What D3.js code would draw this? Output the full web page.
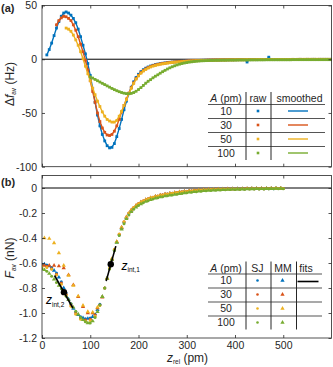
<!DOCTYPE html>
<html lang="en">
<head>
<meta charset="UTF-8">
<title>Frequency shift and force curves</title>
<script src="https://cdn.jsdelivr.net/npm/d3@7"></script>
<style>
  body { margin: 0; background: #fff; }
  svg { display: block; font-family: "Liberation Sans", Arial, sans-serif; }
  .tick text { font-size: 10.5px; font-family: "Liberation Sans", Arial, sans-serif; }
  .domain { display: none; }
  .tick line { stroke-width: 0.8; }
</style>
</head>
<body>
<script>
// oscillation amplitudes (pm) and their colours
const amps = [10, 30, 50, 100]
const colors = ["#0072BD", "#D95319", "#EDB120", "#77AC30"]

// x axis ticks (pm)
const xTicks = [0, 100, 200, 300, 400, 500]
const yTicksA = [-100, -50, 0, 50]
const yTicksB = [-1.2, -1.0, -0.8, -0.6, -0.4, -0.2, 0]

// (a) frequency shift in Hz, one raw point every 5 pm starting at z = A
const dfStart = [10, 30, 50, 100]
const df10 = [4, 9, 15, 22, 29, 35, 40, 43, 44, 43, 41, 38, 34, 28, 21, 13, 5, -4,
  -15, -27, -40, -52, -62, -70, -76, -80.5, -82.5, -82, -78.5, -72, -64.5, -56, -47, -39, -32, -26, -21, -17,
  -14, -11.5, -9.7, -8.3, -7.2, -6.3, -5.6, -5, -4.5, -4.1, -3.7, -3.4, -3.1, -2.8, -2.6, -2.4, -2.2, -2.0, -1.9, -1.7,
  -1.6, -1.5, -1.4, -1.3, -1.2, -1.1, -1.1, -1.0, -0.9, -0.9, -0.8, -0.8, -0.7, -0.7, -0.7, -0.6, -0.6, -0.6, -0.5, -0.5,
  -0.5, -0.5, -0.4, -0.4, -0.4, -2.6, -0.4, -0.4, -0.3, -0.4, -0.3, -0.3, -0.3, -0.3, 1.9, -0.3, -0.3, -0.2, -0.3, -0.2,
  -0.2, -0.3, -0.2, -0.2, -0.2, -0.2, -0.2, -0.1, -0.2, -0.2, -0.1, -0.2, -0.1, -0.1, -0.2, -0.1, -0.1, -0.1, -0.1, -0.1, -0.1]
const df30 = [32, 36, 38.5, 40, 39.5, 38, 36, 32, 27, 21, 14, 7, -1, -10,
  -20, -30, -40, -50, -58, -64, -68, -70.5, -71, -70, -67, -62, -56, -49, -43, -37, -31.5, -26.5, -22, -18,
  -15, -12.5, -10.5, -9, -7.8, -6.8, -6, -5.3, -4.8, -4.3, -3.9, -3.6, -3.3, -3.0, -2.7, -2.5, -2.3, -2.1, -1.9, -1.8,
  -1.6, -1.5, -1.4, -1.3, -1.2, -1.1, -1.0, -1.0, -0.9, -0.8, -0.8, -0.7, -0.7, -0.7, -0.6, -0.6, -0.6, -0.5, -0.5, -0.5,
  -0.5, -0.4, -0.4, -0.4, -0.4, -0.4, -0.3, -0.3, -0.3, -0.3, -0.3, -0.3, -0.3, -0.2, -0.3, -0.2, -0.2, -0.2, -0.2, -0.2,
  -0.2, -0.2, -0.2, -0.2, -0.1, -0.2, -0.1, -0.1, -0.1, -0.1, -0.1, -0.1, -0.1, -0.1, -0.1, -0.1, -0.1, -0.1, -0.1, -0.1, -0.1]
const df50 = [29, 28, 26, 22.5, 18, 13, 7, 0.5, -6.5, -13.5,
  -20, -27, -33, -39, -44, -49, -53, -56, -57.5, -58.5, -58.5, -57, -53, -48.5, -43, -37.5, -32, -27, -22.5, -18.5,
  -15.5, -13, -11, -9.5, -8.2, -7.2, -6.4, -5.8, -5.2, -4.7, -4.3, -3.9, -3.6, -3.3, -3.0, -2.8, -2.6, -2.4, -2.2, -2.0,
  -1.9, -1.7, -1.6, -1.5, -1.4, -1.3, -1.2, -1.1, -1.0, -1.0, -0.9, -0.9, -0.8, -0.8, -0.7, -0.7, -0.7, -0.6, -0.6, -0.6,
  -0.5, -0.5, -0.5, -0.5, -0.4, -0.4, -0.4, -0.4, -0.4, -0.3, -0.3, -0.3, -0.3, -0.3, -0.3, -0.3, -0.2, -0.3, -0.2, -0.2,
  -0.2, -0.2, -0.2, -0.2, -0.2, -0.2, -0.2, -0.1, -0.2, -0.1, -0.1, -0.1, -0.1, -0.1, -0.1, -0.1, -0.1, -0.1, -0.1, -0.1, -0.1]
const df100 = [-16.5, -17.5, -18.8, -20, -21.2, -22.4, -23.6, -24.8, -26, -27.2, -28.3, -29.3, -30.2, -31, -31.6, -32, -32.1, -31.8, -31, -29.8,
  -28.2, -26.4, -24.4, -22.3, -20.5, -19, -17.3, -15.8, -14.5, -13, -11.6, -10.3, -9.1, -8, -7, -6.1, -5.3, -4.6, -4, -3.5,
  -3.1, -2.7, -2.4, -2.1, -1.9, -1.7, -1.5, -1.4, -1.3, -1.2, -1.1, -1.1, -1.0, -1.0, -0.9, -0.9, -0.9, -0.8, -0.8, -0.8,
  -0.8, -0.7, -0.7, -0.7, -0.7, -0.7, -0.6, -0.6, -0.6, -0.6, -0.6, -0.6, -0.6, -0.5, -0.5, -0.5, -0.5, -0.5, -0.5, -0.5,
  -0.5, -0.5, -0.5, -0.5, -0.4, -0.4, -0.4, -0.4, -0.4, -0.4, -0.4, -0.4, -0.4, -0.4, -0.4, -0.4, -0.4, -0.4, -0.4, -0.4, -0.4]
const dfSeries = [df10, df30, df50, df100]

// (b) force in nN; SJ every 10 pm from 0, MM every 10 pm from 5
const sj10 = [-0.61, -0.615, -0.635, -0.68, -0.75, -0.84, -0.925, -0.99, -1.03, -1.045,
  -1.04, -1.01, -0.93, -0.80, -0.645, -0.50, -0.375, -0.275, -0.205, -0.16,
  -0.128, -0.105, -0.088, -0.075, -0.065, -0.056, -0.048, -0.042, -0.036, -0.031,
  -0.027, -0.023, -0.019, -0.016, -0.014, -0.012, -0.011, -0.010, -0.009, -0.008,
  -0.008, -0.007, -0.007, -0.006, -0.006, -0.006, -0.005, -0.005, -0.005, -0.004, -0.004]
const sj30 = [-0.62, -0.625, -0.645, -0.69, -0.76, -0.85, -0.935, -1.0, -1.04, -1.055,
  -1.05, -1.015, -0.935, -0.80, -0.645, -0.495, -0.37, -0.27, -0.20, -0.155,
  -0.124, -0.102, -0.085, -0.073, -0.063, -0.054, -0.047, -0.041, -0.035, -0.030,
  -0.026, -0.022, -0.018, -0.015, -0.013, -0.011, -0.010, -0.009, -0.008, -0.008,
  -0.007, -0.007, -0.006, -0.006, -0.005, -0.005, -0.005, -0.004, -0.004, -0.004, -0.003]
const sj50 = [-0.63, -0.635, -0.65, -0.695, -0.77, -0.86, -0.945, -1.01, -1.05, -1.065,
  -1.06, -1.025, -0.94, -0.80, -0.64, -0.49, -0.368, -0.27, -0.20, -0.156,
  -0.125, -0.103, -0.086, -0.074, -0.064, -0.055, -0.048, -0.042, -0.036, -0.031,
  -0.027, -0.023, -0.019, -0.016, -0.014, -0.012, -0.011, -0.010, -0.009, -0.008,
  -0.008, -0.007, -0.007, -0.006, -0.006, -0.005, -0.005, -0.005, -0.004, -0.004, -0.004]
const sj100 = [-0.645, -0.665, -0.705, -0.755, -0.805, -0.865, -0.925, -0.985, -1.035, -1.07,
  -1.08, -1.035, -0.935, -0.80, -0.648, -0.50, -0.38, -0.285, -0.215, -0.17,
  -0.14, -0.118, -0.101, -0.088, -0.078, -0.069, -0.062, -0.055, -0.049, -0.043,
  -0.038, -0.033, -0.029, -0.025, -0.022, -0.019, -0.017, -0.015, -0.013, -0.012,
  -0.011, -0.010, -0.009, -0.008, -0.008, -0.007, -0.007, -0.006, -0.006, -0.005, -0.005]
const mm10 = [-0.61, -0.625, -0.66, -0.715, -0.80, -0.89, -0.965, -1.015, -1.04, -1.045,
  -1.03, -0.975, -0.87, -0.72, -0.57, -0.435, -0.32, -0.237, -0.18, -0.143,
  -0.116, -0.096, -0.081, -0.07, -0.06, -0.052, -0.045, -0.039, -0.033, -0.029,
  -0.025, -0.021, -0.018, -0.015, -0.013, -0.012, -0.011, -0.010, -0.009, -0.008,
  -0.008, -0.007, -0.007, -0.006, -0.006, -0.005, -0.005, -0.005, -0.004, -0.004]
const mm30 = [-0.62, -0.62, -0.62, -0.625, -0.64, -0.695, -0.775, -0.87, -0.95, -1.0,
  -1.0, -0.96, -0.875, -0.725, -0.57, -0.43, -0.315, -0.232, -0.176, -0.14,
  -0.113, -0.094, -0.079, -0.068, -0.058, -0.05, -0.044, -0.038, -0.032, -0.028,
  -0.024, -0.02, -0.017, -0.014, -0.012, -0.011, -0.01, -0.009, -0.008, -0.008,
  -0.007, -0.007, -0.006, -0.006, -0.005, -0.005, -0.005, -0.004, -0.004, -0.004]
const mm50 = [-0.40, -0.405, -0.44, -0.52, -0.62, -0.70, -0.78, -0.865, -0.94, -0.99,
  -0.995, -0.955, -0.87, -0.72, -0.565, -0.43, -0.315, -0.233, -0.177, -0.141,
  -0.114, -0.095, -0.080, -0.069, -0.059, -0.051, -0.045, -0.039, -0.033, -0.029,
  -0.025, -0.021, -0.018, -0.015, -0.013, -0.012, -0.011, -0.010, -0.009, -0.008,
  -0.008, -0.007, -0.007, -0.006, -0.006, -0.005, -0.005, -0.005, -0.004, -0.004]
const mm100 = [-0.655, -0.685, -0.73, -0.78, -0.835, -0.895, -0.955, -1.01, -1.055, -1.08,
  -1.065, -0.99, -0.87, -0.725, -0.573, -0.437, -0.33, -0.247, -0.19, -0.154,
  -0.128, -0.109, -0.094, -0.083, -0.073, -0.065, -0.058, -0.052, -0.046, -0.040,
  -0.035, -0.031, -0.027, -0.023, -0.020, -0.018, -0.016, -0.014, -0.013, -0.011,
  -0.010, -0.010, -0.009, -0.008, -0.007, -0.007, -0.006, -0.006, -0.005, -0.005]
const sjSeries = [sj10, sj30, sj50, sj100]
const mmSeries = [mm10, mm30, mm50, mm100]

// linear fits around the two inflection points
const fitZ = [[133, 153], [26, 64]]
const fitF = [[-0.745, -0.465], [-0.70, -0.96]]
const infZ = [142.5, 45.5]
const infF = [-0.61, -0.833]
const infLabels = ["int,1", "int,2"]

const width = 333, height = 367
const ink = "#262626"

const svg = d3.select("body").append("svg")
  .attr("width", width)
  .attr("height", height)

const x = d3.scaleLinear().domain([0, 600]).range([42, 331.5])
const ya = d3.scaleLinear().domain([-100, 50]).range([166.7, 5.5])
const yb = d3.scaleLinear().domain([-1.2, 0.1]).range([338, 175.5])

function axes(y, yTicks, fmt, xLabels) {
  const [y0, y1] = y.range()
  const g = svg.append("g").attr("color", ink)
  g.append("g").attr("transform", `translate(0,${y0})`)
    .call(d3.axisBottom(x).tickValues(xTicks).tickSizeInner(-3).tickSizeOuter(0).tickPadding(4)
      .tickFormat(xLabels ? d => String(d) : ""))
  g.append("g").attr("transform", `translate(0,${y1})`)
    .call(d3.axisTop(x).tickValues(xTicks).tickSizeInner(-3).tickSizeOuter(0).tickFormat(""))
  g.append("g").attr("transform", `translate(${x.range()[0]},0)`)
    .call(d3.axisLeft(y).tickValues(yTicks).tickSizeInner(-3).tickSizeOuter(0).tickPadding(5).tickFormat(fmt))
  g.append("g").attr("transform", `translate(${x.range()[1]},0)`)
    .call(d3.axisRight(y).tickValues(yTicks).tickSizeInner(-3).tickSizeOuter(0).tickFormat(""))
  g.append("rect")
    .attr("x", x.range()[0]).attr("y", y1)
    .attr("width", x.range()[1] - x.range()[0]).attr("height", y0 - y1)
    .attr("fill", "none").attr("stroke", ink).attr("stroke-width", 0.8)
}

function clip(id, y) {
  const [y0, y1] = y.range()
  svg.append("clipPath").attr("id", id).append("rect")
    .attr("x", x.range()[0]).attr("y", y1)
    .attr("width", x.range()[1] - x.range()[0]).attr("height", y0 - y1)
  return svg.append("g").attr("clip-path", `url(#${id})`)
}

// ---------- panel (a) ----------
const plotA = clip("clipA", ya)
plotA.append("line")
  .attr("x1", x(0)).attr("x2", x(600)).attr("y1", ya(0)).attr("y2", ya(0))
  .attr("stroke", "#000").attr("stroke-width", 1)

dfSeries.forEach((vals, i) => {
  const pts = vals.map((v, j) => [dfStart[i] + 5 * j, v])
  plotA.append("path").datum(pts)
    .attr("fill", "none").attr("stroke", colors[i]).attr("stroke-width", 1.4)
    .attr("d", d3.line().x(d => x(d[0])).y(d => ya(d[1])).curve(d3.curveBasis))
  plotA.append("g").selectAll("rect").data(pts).join("rect")
    .attr("x", d => x(d[0]) - 1.4).attr("y", d => ya(d[1]) - 1.4)
    .attr("width", 2.8).attr("height", 2.8)
    .attr("fill", colors[i])
})
axes(ya, yTicksA, d => String(d), false)

// ---------- panel (b) ----------
const plotB = clip("clipB", yb)
plotB.append("line")
  .attr("x1", x(0)).attr("x2", x(600)).attr("y1", yb(0)).attr("y2", yb(0))
  .attr("stroke", "#000").attr("stroke-width", 1)

const tri = d3.symbol(d3.symbolTriangle).size(8)
amps.forEach((a, i) => {
  const sj = sjSeries[i].map((v, j) => [10 * j, v])
  const mm = mmSeries[i].map((v, j) => [5 + 10 * j, v])
  plotB.append("g").selectAll("circle").data(sj).join("circle")
    .attr("cx", d => x(d[0])).attr("cy", d => yb(d[1])).attr("r", 1.5)
    .attr("fill", colors[i])
  plotB.append("g").selectAll("path").data(mm).join("path")
    .attr("transform", d => `translate(${x(d[0])},${yb(d[1])})`)
    .attr("d", tri)
    .attr("fill", colors[i])
})

fitZ.forEach((zz, k) => {
  plotB.append("line")
    .attr("x1", x(zz[0])).attr("x2", x(zz[1]))
    .attr("y1", yb(fitF[k][0])).attr("y2", yb(fitF[k][1]))
    .attr("stroke", "#000").attr("stroke-width", 1.6)
  plotB.append("circle")
    .attr("cx", x(infZ[k])).attr("cy", yb(infF[k])).attr("r", 3.2)
    .attr("fill", "#000")
})

// inflection labels
const infPos = [[121.5, 269.5], [46, 304]]
infLabels.forEach((lab, k) => {
  const t = svg.append("text").attr("x", infPos[k][0]).attr("y", infPos[k][1])
    .attr("font-size", 12).attr("fill", "#000")
  t.append("tspan").attr("font-style", "italic").text("z")
  t.append("tspan").attr("font-size", 6.5).attr("dy", 2.5).text(lab)
})

axes(yb, yTicksB, d => d === 0 ? "0" : d.toFixed(1), true)

// ---------- labels ----------
svg.append("text").attr("x", 1).attr("y", 12)
  .attr("font-size", 11).attr("font-weight", "bold").attr("fill", ink).text("(a)")
svg.append("text").attr("x", 1).attr("y", 186)
  .attr("font-size", 11).attr("font-weight", "bold").attr("fill", ink).text("(b)")

const yLabA = svg.append("text")
  .attr("transform", "translate(14,84) rotate(-90)")
  .attr("text-anchor", "middle").attr("font-size", 12).attr("fill", ink)
yLabA.append("tspan").text("Δ")
yLabA.append("tspan").attr("font-style", "italic").text("f")
yLabA.append("tspan").attr("font-size", 6.5).attr("dy", 2).text("av")
yLabA.append("tspan").attr("dy", -2).text(" (Hz)")

const yLabB = svg.append("text")
  .attr("transform", "translate(14,258) rotate(-90)")
  .attr("text-anchor", "middle").attr("font-size", 12).attr("fill", ink)
yLabB.append("tspan").attr("font-style", "italic").text("F")
yLabB.append("tspan").attr("font-size", 6.5).attr("dy", 2).text("av")
yLabB.append("tspan").attr("dy", -2).text(" (nN)")

const xLab = svg.append("text").attr("x", 187.5).attr("y", 362)
  .attr("text-anchor", "middle").attr("font-size", 12).attr("fill", ink)
xLab.append("tspan").attr("font-style", "italic").text("z")
xLab.append("tspan").attr("font-size", 6.5).attr("dy", 2).text("rel")
xLab.append("tspan").attr("dy", -2).text(" (pm)")

// ---------- legend tables ----------
function table(top, cols, vLines, right) {
  const g = svg.append("g").attr("font-size", 10.5).attr("fill", ink)
  const hdr = g.append("text").attr("x", 226).attr("y", top).attr("text-anchor", "middle")
  hdr.append("tspan").attr("font-style", "italic").text("A")
  hdr.append("tspan").text(" (pm)")
  cols.forEach(c => g.append("text").attr("x", c[1]).attr("y", top).attr("text-anchor", "middle").text(c[0]))
  d3.range(4).forEach(k => {
    g.append("line").attr("x1", 208).attr("x2", right)
      .attr("y1", top + 2.5 + 14 * k).attr("y2", top + 2.5 + 14 * k)
      .attr("stroke", "#555").attr("stroke-width", 1.1)
  })
  vLines.forEach(xx => g.append("line").attr("x1", xx).attr("x2", xx)
    .attr("y1", top - 10).attr("y2", top + 58).attr("stroke", ink).attr("stroke-width", 1))
  amps.forEach((a, i) => {
    g.append("text").attr("x", 226).attr("y", top + 12.7 + 14 * i).attr("text-anchor", "middle").text(a)
  })
  return g
}

const legA = table(102, [["raw", 258], ["smoothed", 299.5]], [246, 271], 325)
amps.forEach((a, i) => {
  const cy = 111 + 14 * i
  legA.append("rect").attr("x", 256.7).attr("y", cy - 1.3).attr("width", 2.6).attr("height", 2.6).attr("fill", colors[i])
  legA.append("line").attr("x1", 288).attr("x2", 308).attr("y1", cy).attr("y2", cy)
    .attr("stroke", colors[i]).attr("stroke-width", 1.4)
})

const legB = table(271.5, [["SJ", 257.5], ["MM", 283], ["fits", 306]], [246, 271, 296.5], 322)
amps.forEach((a, i) => {
  const cy = 280.5 + 14 * i
  legB.append("circle").attr("cx", 257.5).attr("cy", cy).attr("r", 1.3).attr("fill", colors[i])
  legB.append("path").attr("transform", `translate(282.5,${cy})`).attr("d", tri).attr("fill", colors[i])
})
legB.append("line").attr("x1", 297.5).attr("x2", 318.5).attr("y1", 281.5).attr("y2", 281.5)
  .attr("stroke", "#000").attr("stroke-width", 1.6)
</script>
</body>
</html>
